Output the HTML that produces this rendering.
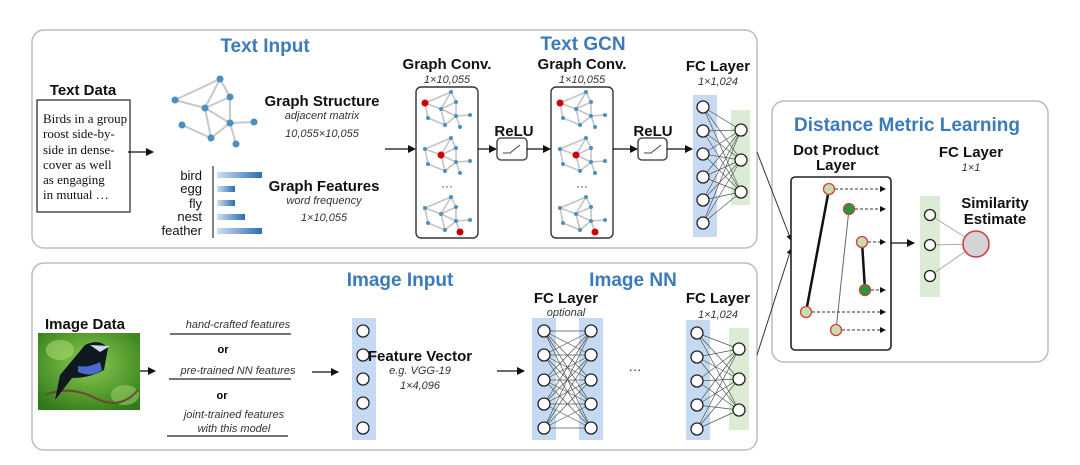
<!DOCTYPE html>
<html><head><meta charset="utf-8"><style>
body{margin:0;background:#fff;}
svg{display:block;font-family:"Liberation Sans",sans-serif;}
.t{font-weight:bold;fill:#3b7bbd;font-size:19px;text-anchor:middle}
.b{font-weight:bold;fill:#111;font-size:15px;text-anchor:middle}
.i{font-style:italic;fill:#333;font-size:11px;text-anchor:middle}
.s{font-family:"Liberation Serif",serif;font-size:13px;fill:#111}
.w{font-size:13px;fill:#111;text-anchor:end}
.ln{stroke:#111;stroke-width:1.3;fill:none}
.n{fill:#fff;stroke:#222;stroke-width:1.3}
.e{stroke:#555;stroke-width:0.7}
.ge{stroke:#c8c8c8;stroke-width:2}
.gn{fill:#4a90c0}
</style></head><body>
<svg width="1080" height="465" viewBox="0 0 1080 465">
<defs>
<marker id="a" markerWidth="8" markerHeight="8" refX="7" refY="4" orient="auto" markerUnits="userSpaceOnUse"><path d="M0,0L8,4L0,8z" fill="#111"/></marker>
<marker id="as" markerWidth="6" markerHeight="6" refX="5" refY="3" orient="auto" markerUnits="userSpaceOnUse"><path d="M0,0L6,3L0,6z" fill="#111"/></marker>
<g id="mg">
<g stroke="#c4c4c4" stroke-width="1.6"><line x1="0" y1="0" x2="26" y2="-11"/><line x1="0" y1="0" x2="16" y2="6"/><line x1="0" y1="0" x2="3" y2="15"/><line x1="26" y1="-11" x2="31" y2="-1"/><line x1="26" y1="-11" x2="16" y2="6"/><line x1="16" y1="6" x2="31" y2="-1"/><line x1="16" y1="6" x2="31" y2="13"/><line x1="16" y1="6" x2="20" y2="22"/><line x1="31" y1="-1" x2="31" y2="13"/><line x1="31" y1="13" x2="45" y2="12"/><line x1="31" y1="13" x2="35" y2="24"/><line x1="3" y1="15" x2="20" y2="22"/><line x1="20" y1="22" x2="31" y2="13"/></g>
<g fill="#4a90c0"><circle cx="0" cy="0" r="2"/><circle cx="26" cy="-11" r="2"/><circle cx="31" cy="-1" r="2"/><circle cx="16" cy="6" r="2"/><circle cx="31" cy="13" r="2"/><circle cx="45" cy="12" r="2"/><circle cx="3" cy="15" r="2"/><circle cx="20" cy="22" r="2"/><circle cx="35" cy="24" r="2"/></g>
</g>
<linearGradient id="bar" x1="0" x2="1"><stop offset="0" stop-color="#cfe0f0"/><stop offset="1" stop-color="#2a6db5"/></linearGradient>
<radialGradient id="bg" cx="0.5" cy="0.4" r="0.7"><stop offset="0" stop-color="#8ccc52"/><stop offset="1" stop-color="#2f7a18"/></radialGradient>
</defs>

<rect x="32" y="30" width="725" height="218" rx="12" fill="#fff" stroke="#bdbdbd" stroke-width="1.5"/>
<rect x="32" y="263" width="725" height="187" rx="12" fill="#fff" stroke="#bdbdbd" stroke-width="1.5"/>
<rect x="772" y="101" width="276" height="261" rx="12" fill="#fff" stroke="#bdbdbd" stroke-width="1.5"/>

<text class="t" x="265" y="52">Text Input</text>
<text class="b" x="83" y="95">Text Data</text>
<rect x="37" y="100" width="93" height="112" fill="#fff" stroke="#333" stroke-width="1.3"/>
<text class="s" x="43" y="123">Birds in a group</text>
<text class="s" x="43" y="138">roost side-by-</text>
<text class="s" x="43" y="154">side in dense-</text>
<text class="s" x="43" y="169">cover as well</text>
<text class="s" x="43" y="184">as engaging</text>
<text class="s" x="43" y="199">in mutual …</text>
<line class="ln" x1="128" y1="152" x2="153" y2="152" marker-end="url(#a)"/>

<g class="ge"><line x1="175" y1="100" x2="220" y2="79"/><line x1="175" y1="100" x2="205" y2="108"/><line x1="220" y1="79" x2="230" y2="97"/><line x1="220" y1="79" x2="205" y2="108"/><line x1="205" y1="108" x2="230" y2="97"/><line x1="205" y1="108" x2="230" y2="123"/><line x1="205" y1="108" x2="211" y2="138"/><line x1="230" y1="97" x2="230" y2="123"/><line x1="230" y1="123" x2="254" y2="122"/><line x1="230" y1="123" x2="236" y2="144"/><line x1="182" y1="125" x2="211" y2="138"/><line x1="211" y1="138" x2="230" y2="123"/></g>
<g class="gn"><circle cx="175" cy="100" r="3.5"/><circle cx="220" cy="79" r="3.5"/><circle cx="230" cy="97" r="3.5"/><circle cx="205" cy="108" r="3.5"/><circle cx="230" cy="123" r="3.5"/><circle cx="254" cy="122" r="3.5"/><circle cx="182" cy="125" r="3.5"/><circle cx="211" cy="138" r="3.5"/><circle cx="236" cy="144" r="3.5"/></g>
<text class="b" x="322" y="106">Graph Structure</text>
<text class="i" x="322" y="119">adjacent matrix</text>
<text class="i" x="322" y="137">10,055×10,055</text>

<text class="w" x="202" y="180">bird</text>
<text class="w" x="202" y="193">egg</text>
<text class="w" x="202" y="208">fly</text>
<text class="w" x="202" y="221">nest</text>
<text class="w" x="202" y="235">feather</text>
<line x1="213" y1="166" x2="213" y2="238" stroke="#333" stroke-width="1.2"/>
<rect x="217" y="172" width="45" height="6" fill="url(#bar)"/>
<rect x="217" y="186" width="18" height="6" fill="url(#bar)"/>
<rect x="217" y="200" width="18" height="6" fill="url(#bar)"/>
<rect x="217" y="214" width="28" height="6" fill="url(#bar)"/>
<rect x="217" y="228" width="45" height="6" fill="url(#bar)"/>
<text class="b" x="324" y="191">Graph Features</text>
<text class="i" x="324" y="204">word frequency</text>
<text class="i" x="324" y="221">1×10,055</text>

<text class="t" x="583" y="50">Text GCN</text>
<line class="ln" x1="385" y1="149" x2="415" y2="149" marker-end="url(#a)"/>
<text class="b" x="447" y="69">Graph Conv.</text>
<text class="i" x="447" y="83">1×10,055</text>
<rect x="416" y="87" width="62" height="151" rx="5" fill="#fff" stroke="#333" stroke-width="1.4"/>
<use href="#mg" x="425" y="103"/><circle cx="425" cy="103" r="3.5" fill="#c00"/>
<use href="#mg" x="425" y="149"/><circle cx="441" cy="155" r="3.5" fill="#c00"/>
<text x="447" y="190" font-size="12" text-anchor="middle" fill="#333">···</text>
<use href="#mg" x="425" y="208"/><circle cx="460" cy="232" r="3.5" fill="#c00"/>
<line class="ln" x1="478" y1="149" x2="496" y2="149" marker-end="url(#a)"/>
<text class="b" x="514" y="136">ReLU</text>
<rect x="497" y="138" width="30" height="22" rx="4" fill="#fff" stroke="#333" stroke-width="1.3"/>
<path d="M503,153 H510 L520,145" stroke="#444" fill="none"/>
<line class="ln" x1="527" y1="149" x2="550" y2="149" marker-end="url(#a)"/>

<text class="b" x="582" y="69">Graph Conv.</text>
<text class="i" x="582" y="83">1×10,055</text>
<rect x="551" y="87" width="62" height="151" rx="5" fill="#fff" stroke="#333" stroke-width="1.4"/>
<use href="#mg" x="560" y="103"/><circle cx="560" cy="103" r="3.5" fill="#c00"/>
<use href="#mg" x="560" y="149"/><circle cx="576" cy="155" r="3.5" fill="#c00"/>
<text x="582" y="190" font-size="12" text-anchor="middle" fill="#333">···</text>
<use href="#mg" x="560" y="208"/><circle cx="595" cy="232" r="3.5" fill="#c00"/>
<line class="ln" x1="613" y1="149" x2="637" y2="149" marker-end="url(#a)"/>
<text class="b" x="653" y="136">ReLU</text>
<rect x="638" y="138" width="29" height="22" rx="4" fill="#fff" stroke="#333" stroke-width="1.3"/>
<path d="M644,153 H651 L661,145" stroke="#444" fill="none"/>
<line class="ln" x1="667" y1="149" x2="692" y2="149" marker-end="url(#a)"/>

<text class="b" x="718" y="71">FC Layer</text>
<text class="i" x="718" y="85">1×1,024</text>
<rect x="693" y="95" width="24" height="142" fill="#c5daf2"/>
<rect x="731" y="110" width="19" height="95" fill="#dcebd3"/>
<g class="e">
<path d="M703,107L741,130M703,107L741,160M703,107L741,192M703,131L741,130M703,131L741,160M703,131L741,192M703,154L741,130M703,154L741,160M703,154L741,192M703,177L741,130M703,177L741,160M703,177L741,192M703,200L741,130M703,200L741,160M703,200L741,192M703,223L741,130M703,223L741,160M703,223L741,192"/></g>
<g class="n"><circle cx="703" cy="107" r="6"/><circle cx="703" cy="131" r="6"/><circle cx="703" cy="154" r="6"/><circle cx="703" cy="177" r="6"/><circle cx="703" cy="200" r="6"/><circle cx="703" cy="223" r="6"/><circle cx="741" cy="130" r="6"/><circle cx="741" cy="160" r="6"/><circle cx="741" cy="192" r="6"/></g>

<line x1="757" y1="152" x2="791" y2="240" stroke="#333" stroke-width="1" marker-end="url(#as)"/>
<line x1="757" y1="355" x2="791" y2="249" stroke="#333" stroke-width="1" marker-end="url(#as)"/>

<text class="t" x="907" y="131">Distance Metric Learning</text>
<text class="b" x="836" y="155" font-size="14">Dot Product</text>
<text class="b" x="836" y="170" font-size="14">Layer</text>
<text class="b" x="971" y="157" font-size="14">FC Layer</text>
<text class="i" x="971" y="171" font-size="9">1×1</text>
<rect x="791" y="177" width="100" height="173" rx="4" fill="#fff" stroke="#222" stroke-width="1.6"/>
<line x1="806" y1="312" x2="829" y2="189" stroke="#111" stroke-width="2.5"/>
<line x1="836" y1="330" x2="849" y2="209" stroke="#666" stroke-width="1"/>
<line x1="862" y1="242" x2="865" y2="290" stroke="#111" stroke-width="2.5"/>
<g stroke="#333" stroke-dasharray="3,2" stroke-width="1">
<line x1="835" y1="189" x2="885" y2="189" marker-end="url(#as)"/>
<line x1="855" y1="209" x2="885" y2="209" marker-end="url(#as)"/>
<line x1="868" y1="242" x2="885" y2="242" marker-end="url(#as)"/>
<line x1="871" y1="290" x2="885" y2="290" marker-end="url(#as)"/>
<line x1="812" y1="312" x2="885" y2="312" marker-end="url(#as)"/>
<line x1="842" y1="330" x2="885" y2="330" marker-end="url(#as)"/>
</g>
<g stroke="#d04040" stroke-width="1.3">
<circle cx="829" cy="189" r="5.5" fill="#c8dcb0"/><circle cx="849" cy="209" r="5.5" fill="#1f9a3a"/><circle cx="862" cy="242" r="5.5" fill="#c8dcb0"/><circle cx="865" cy="290" r="5.5" fill="#1f9a3a"/><circle cx="806" cy="312" r="5.5" fill="#c8dcb0"/><circle cx="836" cy="330" r="5.5" fill="#c8dcb0"/></g>
<line class="ln" x1="891" y1="243" x2="914" y2="243" marker-end="url(#a)"/>
<rect x="920" y="196" width="20" height="101" fill="#dcebd3"/>
<g stroke="#aaa" stroke-width="1"><line x1="930" y1="215" x2="976" y2="244"/><line x1="930" y1="245" x2="976" y2="244"/><line x1="930" y1="276" x2="976" y2="244"/></g>
<g class="n"><circle cx="930" cy="215" r="5.5"/><circle cx="930" cy="245" r="5.5"/><circle cx="930" cy="276" r="5.5"/></g>
<circle cx="976" cy="244" r="13" fill="#d4d4d4" stroke="#d04040" stroke-width="1.6"/>
<text class="b" x="995" y="208" font-size="14">Similarity</text>
<text class="b" x="995" y="224" font-size="14">Estimate</text>

<text class="t" x="400" y="286">Image Input</text>
<text class="b" x="85" y="329">Image Data</text>
<rect x="38" y="333" width="102" height="77" fill="url(#bg)"/>
<ellipse cx="60" cy="350" rx="14" ry="10" fill="#a6d870" opacity="0.6"/>
<ellipse cx="125" cy="395" rx="14" ry="10" fill="#a6d870" opacity="0.5"/>
<path d="M45,395 Q70,385 95,398 T138,390" stroke="#6a4a30" stroke-width="2" fill="none"/>
<path d="M60,375 L85,345 Q100,338 108,348 L104,370 Q90,378 72,378 L55,400 Z" fill="#101820"/>
<path d="M78,372 Q92,378 102,370 L100,362 Q88,368 78,366Z" fill="#4a6ad0"/>
<path d="M90,345 L110,346 L100,352Z" fill="#cde"/>
<line class="ln" x1="140" y1="371" x2="155" y2="371" marker-end="url(#a)"/>
<g class="i" font-size="11.5">
<text x="238" y="328">hand-crafted features</text>
<text x="238" y="374">pre-trained NN features</text>
<text x="234" y="418">joint-trained features</text>
<text x="234" y="432">with this model</text></g>
<text x="223" y="353" font-size="11" font-weight="bold" text-anchor="middle">or</text>
<text x="222" y="399" font-size="11" font-weight="bold" text-anchor="middle">or</text>
<g stroke="#222" stroke-width="1.2"><line x1="170" y1="334" x2="291" y2="334"/><line x1="169" y1="379" x2="291" y2="379"/><line x1="167" y1="436" x2="288" y2="436"/></g>
<line class="ln" x1="312" y1="372" x2="338" y2="372" marker-end="url(#a)"/>
<rect x="352" y="318" width="24" height="122" fill="#c5daf2"/>
<g class="n"><circle cx="363" cy="331" r="6"/><circle cx="363" cy="355" r="6"/><circle cx="363" cy="379" r="6"/><circle cx="363" cy="403" r="6"/><circle cx="363" cy="428" r="6"/></g>
<text class="b" x="420" y="361">Feature Vector</text>
<text class="i" x="420" y="374">e.g. VGG-19</text>
<text class="i" x="420" y="389">1×4,096</text>
<line class="ln" x1="497" y1="371" x2="524" y2="371" marker-end="url(#a)"/>

<text class="t" x="633" y="286">Image NN</text>
<text class="b" x="566" y="303">FC Layer</text>
<text class="i" x="566" y="316">optional</text>
<rect x="532" y="318" width="24" height="122" fill="#c5daf2"/>
<rect x="579" y="318" width="24" height="122" fill="#c5daf2"/>
<g class="e"><path d="M544,331L591,331M544,331L591,355M544,331L591,380M544,331L591,404M544,331L591,428M544,355L591,331M544,355L591,355M544,355L591,380M544,355L591,404M544,355L591,428M544,380L591,331M544,380L591,355M544,380L591,380M544,380L591,404M544,380L591,428M544,404L591,331M544,404L591,355M544,404L591,380M544,404L591,404M544,404L591,428M544,428L591,331M544,428L591,355M544,428L591,380M544,428L591,404M544,428L591,428"/></g>
<g class="n"><circle cx="544" cy="331" r="6"/><circle cx="544" cy="355" r="6"/><circle cx="544" cy="380" r="6"/><circle cx="544" cy="404" r="6"/><circle cx="544" cy="428" r="6"/><circle cx="591" cy="331" r="6"/><circle cx="591" cy="355" r="6"/><circle cx="591" cy="380" r="6"/><circle cx="591" cy="404" r="6"/><circle cx="591" cy="428" r="6"/></g>
<text x="635" y="374" font-size="13" text-anchor="middle" fill="#222">···</text>
<text class="b" x="718" y="303">FC Layer</text>
<text class="i" x="718" y="318">1×1,024</text>
<rect x="686" y="320" width="24" height="120" fill="#c5daf2"/>
<rect x="729" y="328" width="20" height="102" fill="#dcebd3"/>
<g class="e"><path d="M697,333L739,349M697,333L739,379M697,333L739,410M697,357L739,349M697,357L739,379M697,357L739,410M697,381L739,349M697,381L739,379M697,381L739,410M697,405L739,349M697,405L739,379M697,405L739,410M697,429L739,349M697,429L739,379M697,429L739,410"/></g>
<g class="n"><circle cx="697" cy="333" r="6"/><circle cx="697" cy="357" r="6"/><circle cx="697" cy="381" r="6"/><circle cx="697" cy="405" r="6"/><circle cx="697" cy="429" r="6"/><circle cx="739" cy="349" r="6"/><circle cx="739" cy="379" r="6"/><circle cx="739" cy="410" r="6"/></g>
</svg>
</body></html>
